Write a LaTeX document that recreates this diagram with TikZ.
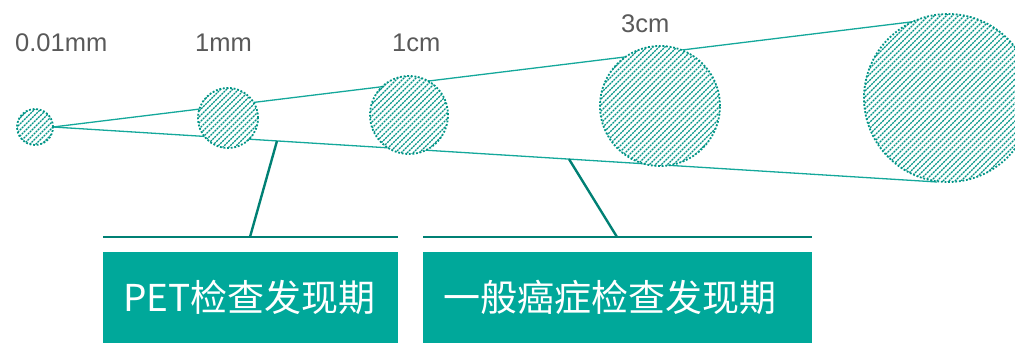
\documentclass[tikz,border=0pt]{standalone}
\usepackage{fontspec}
\setmainfont{Liberation Sans}
\newfontfamily\cjk{Noto Sans CJK SC}
\usetikzlibrary{calc}
\definecolor{tealbox}{RGB}{0,168,154}
\definecolor{tealline}{RGB}{20,168,155}
\definecolor{tealdark}{RGB}{0,128,116}
\definecolor{tealhatch}{RGB}{0,148,134}
\definecolor{labelgray}{RGB}{89,89,89}
\tikzset{
  hatchdot/.style={draw=tealhatch, line width=1.4pt, dash pattern=on 2pt off 0.9pt},
  blob/.style={circle, inner sep=0pt, outer sep=0pt, minimum size=#1, fill=white,
    draw=tealhatch, line width=1.8pt, dash pattern=on 1.8pt off 1.8pt,
    path picture={
      \foreach \k in {-35,...,35}{
        \draw[hatchdot] ($(path picture bounding box.center)+(\k*6-200,200)$) -- ++(400,-400);
      }
    }},
  sizelabel/.style={anchor=base west, inner sep=0pt, text=labelgray, font=\fontsize{25.5}{25.5}\selectfont},
  thinline/.style={draw=tealline, line width=1.3pt},
  leader/.style={draw=tealdark, line width=2.4pt},
  stagebox/.style={fill=tealbox, text=white, anchor=north west, inner xsep=20pt, inner ysep=0pt,
    minimum height=91pt, align=left, font=\cjk\fontsize{37}{37}\selectfont}
}
\begin{document}
\begin{tikzpicture}[x=1pt,y=-1pt]
\useasboundingbox (0,0) rectangle (1015,344);
% rays
\coordinate (apex) at (53,127);
\coordinate (topend) at (927,20);
\coordinate (botend) at (937,182);
\draw[thinline] (apex) -- (topend);
\draw[thinline] (apex) -- (botend);
% circles
\node[blob=36pt] (c1) at (35,127) {};
\node[blob=60pt] (c2) at (228,118) {};
\node[blob=78pt] (c3) at (409,115) {};
\node[blob=120pt] (c4) at (660,106) {};
\node[blob=168pt] (c5) at (948,98) {};
% labels
\node[sizelabel] (l1) at (15,52) {0.01mm};
\node[sizelabel] (l2) at (195,52) {1mm};
\node[sizelabel] (l3) at (392,52) {1cm};
\node[sizelabel] (l4) at (621,33) {3cm};
% bars and leaders
\coordinate (b1l) at (103,237);
\coordinate (b1r) at (398,237);
\coordinate (b2l) at (423,237);
\coordinate (b2r) at (812,237);
\draw[leader] (b1l) -- (b1r);
\draw[leader] (b2l) -- (b2r);
\coordinate (p1) at ($(apex)!{(277-53)/(937-53)}!(botend)$);
\coordinate (p2) at ($(apex)!{(569-53)/(937-53)}!(botend)$);
\coordinate (q1) at (250,237);
\coordinate (q2) at (617,237);
\draw[leader] (p1) -- (q1);
\draw[leader] (p2) -- (q2);
% boxes
\node[stagebox, text width=255pt] (s1) at (103,252) {PET检查发现期};
\node[stagebox, text width=349pt] (s2) at (423,252) {一般癌症检查发现期};
\end{tikzpicture}
\end{document}
